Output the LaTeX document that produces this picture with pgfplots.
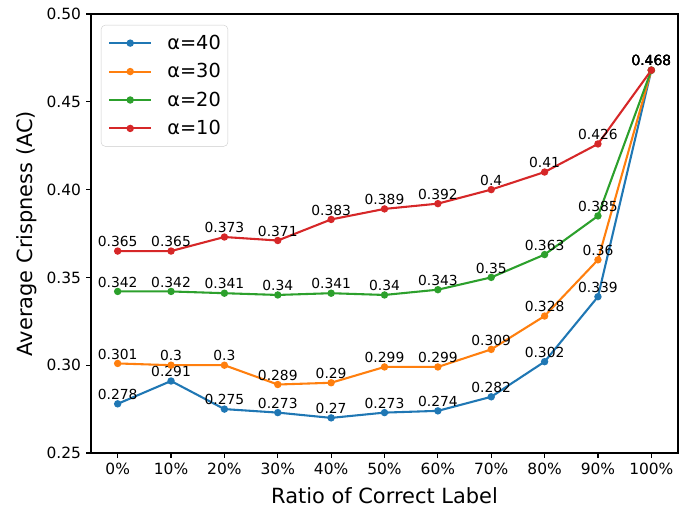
\documentclass[border=0pt]{standalone}
\usepackage{fontspec}
\setmainfont{DejaVu Sans}
\usepackage{pgfplots}
\pgfplotsset{compat=1.18}
\usetikzlibrary{calc}
\definecolor{c1}{HTML}{1F77B4}
\definecolor{c2}{HTML}{FF7F0E}
\definecolor{c3}{HTML}{2CA02C}
\definecolor{c4}{HTML}{D62728}
\begin{document}
\begin{tikzpicture}
\begin{axis}[
  scale only axis, width=587bp, height=439bp,
  xmin=-0.5, xmax=10.5, ymin=0.25, ymax=0.50,
  xtick={0,1,2,3,4,5,6,7,8,9,10},
  xticklabels={0\%,10\%,20\%,30\%,40\%,50\%,60\%,70\%,80\%,90\%,100\%},
  ytick={0.25,0.30,0.35,0.40,0.45,0.50},
  yticklabel style={inner sep=0pt, xshift=-4.9bp, anchor=east,
    /pgf/number format/fixed, /pgf/number format/fixed zerofill,
    /pgf/number format/precision=2, /pgf/number format/assume math mode=true},
  tick align=outside, tick pos=left, major tick length=4.9bp,
  tick style={black, line width=1.1bp},
  axis line style={line width=1.1bp},
  ticklabel style={font=\fontsize{15.5}{18}\selectfont},
  xticklabel style={inner sep=0pt, yshift=-4.9bp, anchor=north},
  xlabel={Ratio of Correct Label}, ylabel={Average Crispness (AC)},
  every axis x label/.style={at={(axis description cs:0.5,0)}, anchor=base, yshift=-50bp, inner sep=0pt, font=\fontsize{21}{25}\selectfont},
  every axis y label/.style={at={(axis description cs:0,0.5)}, rotate=90, anchor=north, yshift=75bp, inner sep=0pt, font=\fontsize{21}{25}\selectfont},
  legend style={at={(0,1)}, anchor=north west, xshift=10bp, yshift=-11bp,
    draw=black!20, rounded corners=4bp, fill=white, fill opacity=0.8, text opacity=1,
    font=\fontsize{19.4}{22}\selectfont, row sep=12.6bp, column sep=15bp,
    inner xsep=7bp, inner ysep=10bp, nodes={inner sep=0pt}},
  legend cell align=left,
  legend image code/.code={\draw[line width=2.08bp, mark size=2.6bp, mark repeat=2,mark phase=2,#1] plot coordinates {(0bp,0bp)(21bp,0bp)(42bp,0bp)};},
  every axis plot/.append style={line width=2.08bp, mark=*, mark size=2.6bp,
    nodes near coords={\pgfmathprintnumber[precision=3, assume math mode=true]{\pgfplotspointmeta}},
    every node near coord/.append style={anchor=south, inner sep=0pt, yshift=3bp, text=black, font=\fontsize{13.9}{16}\selectfont}},
]
\addplot[c1, mark options={fill=c1}] coordinates {(0,0.278)(1,0.291)(2,0.275)(3,0.273)(4,0.27)(5,0.273)(6,0.274)(7,0.282)(8,0.302)(9,0.339)(10,0.468)};
\addlegendentry{α=40}
\addplot[c2, mark options={fill=c2}] coordinates {(0,0.301)(1,0.3)(2,0.3)(3,0.289)(4,0.29)(5,0.299)(6,0.299)(7,0.309)(8,0.328)(9,0.36)(10,0.468)};
\addlegendentry{α=30}
\addplot[c3, mark options={fill=c3}] coordinates {(0,0.342)(1,0.342)(2,0.341)(3,0.34)(4,0.341)(5,0.34)(6,0.343)(7,0.35)(8,0.363)(9,0.385)(10,0.468)};
\addlegendentry{α=20}
\addplot[c4, mark options={fill=c4}] coordinates {(0,0.365)(1,0.365)(2,0.373)(3,0.371)(4,0.383)(5,0.389)(6,0.392)(7,0.4)(8,0.41)(9,0.426)(10,0.468)};
\addlegendentry{α=10}
\end{axis}
\pgfresetboundingbox
\path[use as bounding box] ($(current axis.south west)+(-91bp,-55bp)$) rectangle ($(current axis.north east)+(8bp,14bp)$);
\end{tikzpicture}
\end{document}
